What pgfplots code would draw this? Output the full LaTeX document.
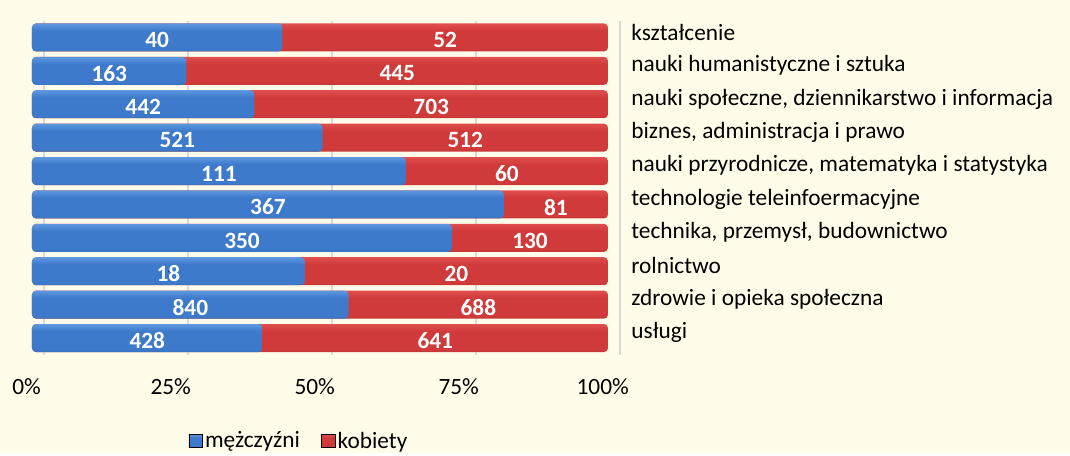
\documentclass[border=0pt]{standalone}
\usepackage{pgfplots}
\pgfplotsset{compat=1.18}
\usepackage{fontspec}
\setmainfont{Carlito}
\definecolor{bg}{HTML}{FFFDE9}
\definecolor{blueT}{HTML}{3367B2}
\definecolor{blueA}{HTML}{6BA3E8}
\definecolor{blueB}{HTML}{3D7ACB}
\definecolor{blueC}{HTML}{24548F}
\definecolor{redT}{HTML}{B83232}
\definecolor{redA}{HTML}{E65656}
\definecolor{redB}{HTML}{D03A3A}
\definecolor{redC}{HTML}{8C2222}
\pgfdeclareverticalshading{barblue}{100bp}{color(0bp)=(blueC); color(30bp)=(blueB); color(62bp)=(blueB); color(80bp)=(blueA); color(92bp)=(blueA); color(100bp)=(blueT)}
\pgfdeclareverticalshading{barred}{100bp}{color(0bp)=(redC); color(30bp)=(redB); color(62bp)=(redB); color(80bp)=(redA); color(92bp)=(redA); color(100bp)=(redT)}
\pgfplotsset{
  redbar/.style={forget plot, xbar, bar width=21pt, bar shift=0pt, draw=none, shading=barred, shade, rounded corners=3pt},
  bluebar/.style={forget plot, xbar, bar width=21pt, bar shift=0pt, draw=none, shading=barblue, shade, rounded corners=3pt},
  numlab/.style={forget plot, only marks, mark=*, mark size=0.01pt, mark options={draw=none,fill=none},
    nodes near coords, point meta=explicit symbolic,
    every node near coord/.append style={anchor=center, text=white, yshift=-2pt, font=\fontsize{17.5}{21}\selectfont\bfseries}},
}
\begin{document}
\begin{tikzpicture}
\fill[bg] (0,0) rectangle (802.5pt,339.75pt);
\begin{axis}[
  scale only axis, width=432pt, height=250.5pt,
  at={(24pt,73.7pt)}, anchor=south west,
  xmin=0, xmax=100, ymin=-0.5, ymax=9.5, y dir=reverse,
  font=\fontsize{17.5}{21}\selectfont,
  xtick={0,25,50,75,100}, xticklabels={0\%,25\%,50\%,75\%,100\%},
  xticklabel style={yshift=-14pt, xshift=-4pt},
  ytick={0,...,9},
  yticklabels={kształcenie,nauki humanistyczne i sztuka,{nauki społeczne, dziennikarstwo i informacja},{biznes, administracja i prawo},{nauki przyrodnicze, matematyka i statystyka},technologie teleinfoermacyjne,{technika, przemysł, budownictwo},rolnictwo,zdrowie i opieka społeczna,usługi},
  yticklabel pos=right,
  yticklabel style={anchor=west, xshift=14pt, yshift=4pt},
  major tick length=0pt,
  axis line style={draw=none},
  xmajorgrids, major grid style={draw=gray!30, line width=1pt, xshift=9pt},
  legend columns=2,
  legend style={at={(0.464,-0.258)}, anchor=center, draw=none, fill=none,
    font=\fontsize{17.5}{21}\selectfont,
    /tikz/every even column/.append style={column sep=14pt}},
]
% kobiety: bar runs to 100 %, the blue share is drawn over it
\addplot[redbar] coordinates {(100,0)};
\addplot[redbar] coordinates {(100,1)};
\addplot[redbar] coordinates {(100,2)};
\addplot[redbar] coordinates {(100,3)};
\addplot[redbar] coordinates {(100,4)};
\addplot[redbar] coordinates {(100,5)};
\addplot[redbar] coordinates {(100,6)};
\addplot[redbar] coordinates {(100,7)};
\addplot[redbar] coordinates {(100,8)};
\addplot[redbar] coordinates {(100,9)};
% mężczyźni share (%)
\addplot[bluebar] coordinates {(43.48,0)};
\addplot[bluebar] coordinates {(26.81,1)};
\addplot[bluebar] coordinates {(38.60,2)};
\addplot[bluebar] coordinates {(50.44,3)};
\addplot[bluebar] coordinates {(64.91,4)};
\addplot[bluebar] coordinates {(81.92,5)};
\addplot[bluebar] coordinates {(72.92,6)};
\addplot[bluebar] coordinates {(47.37,7)};
\addplot[bluebar] coordinates {(54.97,8)};
\addplot[bluebar] coordinates {(40.04,9)};
% counts
\addplot[numlab] coordinates {(21.74,0) [40] (13.41,1) [163] (19.30,2) [442] (25.22,3) [521] (32.46,4) [111]
   (40.96,5) [367] (36.46,6) [350] (23.68,7) [18] (27.49,8) [840] (20.02,9) [428]};
\addplot[numlab] coordinates {(71.74,0) [52] (63.41,1) [445] (69.30,2) [703] (75.22,3) [512] (82.46,4) [60]
   (90.96,5) [81] (86.46,6) [130] (73.68,7) [20] (77.49,8) [688] (70.02,9) [641]};
\addlegendimage{legend image code/.code={\path[shading=barblue, shade] (0pt,-5pt) rectangle (10pt,5pt);}}
\addlegendentry{mężczyźni}
\addlegendimage{legend image code/.code={\path[shading=barred, shade] (0pt,-5pt) rectangle (10pt,5pt);}}
\addlegendentry{kobiety}
\end{axis}
\end{tikzpicture}
\end{document}
